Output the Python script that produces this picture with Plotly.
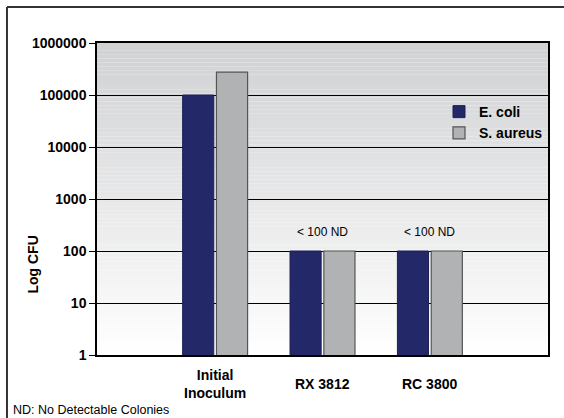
import plotly.graph_objects as go

categories = ["Initial Inoculum", "RX 3812", "RC 3800"]
category_labels = ["Initial<br>Inoculum", "RX 3812", "RC 3800"]
series_names = ["E. coli", "S. aureus"]
ecoli = [100000, 100, 100]
saureus = [275000, 100, 100]
nd_notes = ["", "< 100 ND", "< 100 ND"]
y_ticks = [1, 10, 100, 1000, 10000, 100000, 1000000]

FONT = "Liberation Sans, Arial, sans-serif"

fig = go.Figure()
fig.add_trace(go.Bar(name=f"<b>{series_names[0]}</b>", x=categories, y=ecoli,
                     marker=dict(color="#222868", line=dict(color="#1b2055", width=1))))
fig.add_trace(go.Bar(name=f"<b>{series_names[1]}</b>", x=categories, y=saureus,
                     marker=dict(color="#b1b2b4", line=dict(color="#555555", width=1.2))))

shapes = []
n = 80
for i in range(n):
    t0 = i / n
    t1 = (i + 1) / n
    f = (t0 + t1) / 2  # 0 at bottom, 1 at top
    c = lambda a, b: int(round(b + (a - b) * f))
    col = f"rgb({c(208,255)},{c(209,255)},{c(211,255)})"
    shapes.append(dict(type="rect", xref="paper", yref="paper", x0=0, x1=1, y0=t0, y1=t1,
                       fillcolor=col, line=dict(width=0), layer="below"))

# outer frame lines (top and left)
shapes.append(dict(type="line", xref="paper", yref="paper", x0=-0.1996, x1=1.05, y0=1.1154, y1=1.1154,
                   line=dict(color="#333333", width=2)))
shapes.append(dict(type="line", xref="paper", yref="paper", x0=-0.1996, x1=-0.1996, y0=1.1154, y1=-0.22,
                   line=dict(color="#333333", width=2)))

annotations = []
for cat, lab in zip(categories, category_labels):
    annotations.append(dict(x=cat, y=-0.093, xref="x", yref="paper", text=f"<b>{lab}</b>",
                            showarrow=False, font=dict(family=FONT, size=14, color="#000"),
                            xanchor="center", yanchor="middle"))
for cat, note in zip(categories, nd_notes):
    if note:
        annotations.append(dict(x=cat, y=2.2, xref="x", yref="y", text=note, showarrow=False,
                                font=dict(family=FONT, size=12, color="#000"),
                                xanchor="center", yanchor="bottom"))
annotations.append(dict(x=-0.144, y=0.29, xref="paper", yref="paper", text="<b>Log CFU</b>",
                        textangle=-90, showarrow=False, font=dict(family=FONT, size=14, color="#000"),
                        xanchor="center", yanchor="middle"))
annotations.append(dict(x=-0.19, y=-0.148, xref="paper", yref="paper", text="ND: No Detectable Colonies",
                        showarrow=False, font=dict(family=FONT, size=12.5, color="#000"),
                        xanchor="left", yanchor="top"))

fig.update_layout(
    width=564, height=418,
    margin=dict(l=97, r=16, t=43, b=63),
    paper_bgcolor="white", plot_bgcolor="rgba(0,0,0,0)",
    barmode="group", bargap=0.37, bargroupgap=0.08,
    font=dict(family=FONT, size=14, color="#000"),
    showlegend=True,
    legend=dict(x=1.0, y=0.83, xanchor="right", yanchor="top", bgcolor="rgba(0,0,0,0)",
                font=dict(family=FONT, size=14, color="#000", weight="bold"),
                itemwidth=30, tracegroupgap=0, traceorder="normal"),
    shapes=shapes, annotations=annotations,
)
fig.update_xaxes(range=[-1.1, 3.1], showticklabels=False, showgrid=False, zeroline=False,
                 showline=True, linecolor="#000", linewidth=1.5, mirror=True, ticks="")
fig.update_yaxes(type="log", range=[0, 6], tickvals=y_ticks, ticktext=[str(v) for v in y_ticks],
                 tickfont=dict(family=FONT, size=14, color="#000", weight="bold"),
                 showgrid=True, gridcolor="#000", gridwidth=1, zeroline=False,
                 showline=True, linecolor="#000", linewidth=1.5, mirror=True,
                 ticks="outside", ticklen=6, tickcolor="#000", tickwidth=1)

fig.write_html("out.html", config={"displayModeBar": False},
               post_script="document.body.style.margin='0px';document.body.style.padding='0px';")
